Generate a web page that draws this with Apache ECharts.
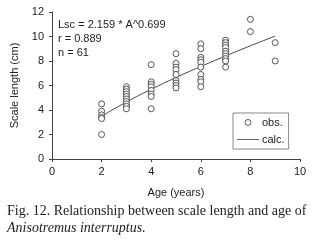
<!DOCTYPE html>
<html>
<head>
<meta charset="utf-8">
<script src="https://cdn.jsdelivr.net/npm/echarts@6/dist/echarts.min.js"></script>
<style>
  html, body { margin: 0; padding: 0; background: #fff; }
  #chart { width: 321px; height: 248px; }
</style>
</head>
<body>
<div id="chart"></div>
<script>
const ages = [2, 3, 4, 5, 6, 7, 8, 9];
const obsByAge = [
  [4.5, 3.9, 3.6, 3.4, 3.3, 2.0],
  [5.9, 5.7, 5.5, 5.3, 5.1, 4.9, 4.7, 4.5, 4.3, 4.1],
  [7.7, 6.3, 6.1, 5.9, 5.6, 5.3, 5.1, 4.1],
  [8.6, 7.8, 7.5, 7.3, 6.9, 6.4, 6.2, 6.0, 5.8],
  [9.4, 9.0, 8.3, 8.1, 7.9, 7.5, 6.9, 6.5, 6.3, 5.9],
  [9.7, 9.5, 9.3, 9.1, 8.8, 8.6, 8.4, 8.2, 8.0, 7.5],
  [11.4, 10.4],
  [9.5, 8.0]
];
// calculated curve
const calcValues = [3.5, 4.65, 5.69, 6.65, 7.55, 8.41, 9.24, 10.03];

const xTicks = [0, 2, 4, 6, 8, 10];
const yTicks = [0, 2, 4, 6, 8, 10, 12];

const equationLines = ['Lsc = 2.159 * A^0.699', 'r = 0.889', 'n = 61'];
const captionLine1 = 'Fig. 12. Relationship between scale length and age of';
const captionLine2 = 'Anisotremus interruptus.';

const obsData = [];
ages.forEach((a, i) => obsByAge[i].forEach(v => obsData.push([a, v])));
const calcData = ages.map((a, i) => [a, calcValues[i]]);

const chart = echarts.init(document.getElementById('chart'), null, { renderer: 'canvas' });

const axisColor = '#444';
const sans = 'Arial, "Liberation Sans", sans-serif';
const serif = '"Liberation Serif", "Times New Roman", serif';
const circleStyle = { color: '#fff', borderColor: '#444', borderWidth: 0.9, opacity: 1 };

const option = {
  animation: false,
  backgroundColor: '#fff',
  grid: { left: 52, top: 12, width: 248, height: 147 },
  xAxis: {
    type: 'value',
    min: xTicks[0],
    max: xTicks[xTicks.length - 1],
    interval: 2,
    name: 'Age (years)',
    nameLocation: 'middle',
    nameGap: 28,
    nameTextStyle: { color: '#222', fontSize: 11, fontFamily: sans },
    axisLine: { lineStyle: { color: axisColor, width: 1 } },
    axisTick: { show: true, length: 3, lineStyle: { color: axisColor } },
    axisLabel: { color: '#222', fontSize: 11, fontFamily: sans, margin: 7 },
    splitLine: { show: false }
  },
  yAxis: {
    type: 'value',
    min: yTicks[0],
    max: yTicks[yTicks.length - 1],
    interval: 2,
    name: 'Scale length (cm)',
    nameLocation: 'middle',
    nameGap: 20,
    nameTextStyle: { color: '#222', fontSize: 11, fontFamily: sans },
    axisLine: { show: true, lineStyle: { color: axisColor, width: 1 } },
    axisTick: { show: true, length: 3, lineStyle: { color: axisColor } },
    axisLabel: { color: '#222', fontSize: 11, fontFamily: sans, margin: 8 },
    splitLine: { show: false }
  },
  legend: {
    orient: 'vertical',
    left: 233,
    top: 113,
    width: 55,
    padding: [4, 4, 4, 4],
    itemGap: 6,
    itemWidth: 22,
    itemHeight: 6,
    borderColor: '#888',
    borderWidth: 1,
    textStyle: { color: '#222', fontSize: 11, fontFamily: sans, padding: [0, 0, 0, -2] },
    data: [
      { name: 'obs.', icon: 'circle', itemStyle: circleStyle },
      { name: 'calc.', icon: 'path://M0,0L0,0M0,2.6L22,2.6L22,3.4L0,3.4ZM0,6L0,6' }
    ]
  },
  series: [
    {
      name: 'obs.',
      type: 'scatter',
      data: obsData,
      symbol: 'circle',
      symbolSize: 6,
      itemStyle: circleStyle,
      z: 3
    },
    {
      name: 'calc.',
      type: 'line',
      data: calcData,
      smooth: true,
      showSymbol: false,
      symbol: 'none',
      lineStyle: { color: '#444', width: 1 },
      itemStyle: { color: '#444' },
      z: 2
    }
  ],
  graphic: [
    ...equationLines.map((t, i) => ({
      type: 'text',
      left: 58,
      top: 19 + i * 14,
      style: { text: t, fill: '#222', font: '11px ' + sans }
    })),
    {
      type: 'text',
      left: 7,
      top: 204,
      style: { text: captionLine1, fill: '#222', font: '14px ' + serif }
    },
    {
      type: 'text',
      left: 7,
      top: 221,
      style: { text: captionLine2, fill: '#222', font: 'italic 14px ' + serif }
    }
  ]
};

chart.setOption(option);
</script>
</body>
</html>
